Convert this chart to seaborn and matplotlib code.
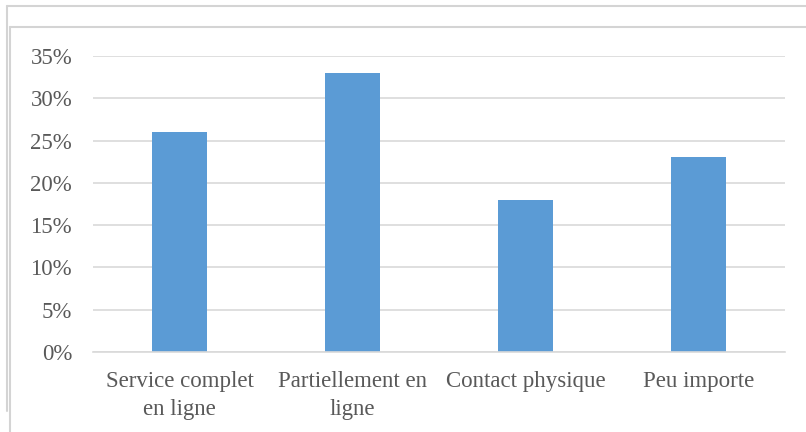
import matplotlib
matplotlib.use("Agg")
import matplotlib.pyplot as plt
from matplotlib.lines import Line2D
import seaborn as sns
import pandas as pd

categories = ["Service complet\nen ligne", "Partiellement en\nligne", "Contact physique", "Peu importe"]
shares = [0.26, 0.33, 0.18, 0.23]
yticks = [0, 0.05, 0.10, 0.15, 0.20, 0.25, 0.30, 0.35]
ytick_labels = ["0%", "5%", "10%", "15%", "20%", "25%", "30%", "35%"]

sns.set_theme(style="white")
plt.rcParams["font.family"] = ["Liberation Serif", "DejaVu Serif"]

W, H = 806, 432
fig = plt.figure(figsize=(W / 100, H / 100), dpi=100)
ax = fig.add_axes([93 / W, 1 - 352 / H, (785 - 93) / W, (352 - 56) / H])

df = pd.DataFrame({"cat": categories, "share": shares})
sns.barplot(data=df, x="cat", y="share", color="#5B9BD5", width=0.32,
            saturation=1, ax=ax, edgecolor="none")

ax.set_ylim(0, 0.35)
ax.set_xlim(-0.5, 3.5)
ax.set_yticks(yticks)
ax.set_yticklabels(ytick_labels)
ax.yaxis.grid(True, color="#d9d9d9", linewidth=1.2)
ax.set_axisbelow(True)
ax.set_xlabel("")
ax.set_ylabel("")
for s in ["top", "right", "left"]:
    ax.spines[s].set_visible(False)
ax.spines["bottom"].set_color("#d9d9d9")
ax.spines["bottom"].set_linewidth(1.2)
ax.tick_params(axis="y", length=0, pad=15, labelsize=16.5, labelcolor="#595959")
ax.tick_params(axis="x", length=0, pad=14, labelsize=16.5, labelcolor="#595959")
for lab in ax.get_xticklabels():
    lab.set_linespacing(1.38)

# page frame lines around the chart
def hline(y, x0, x1):
    fig.add_artist(Line2D([x0 / W, x1 / W], [1 - y / H, 1 - y / H],
                          color="#d4d4d4", linewidth=1.5, transform=fig.transFigure))

def vline(x, y0, y1):
    fig.add_artist(Line2D([x / W, x / W], [1 - y0 / H, 1 - y1 / H],
                          color="#d4d4d4", linewidth=1.5, transform=fig.transFigure))

hline(5.5, 6.5, W)
vline(7, 5.5, 411)
hline(27, 9.5, W)
vline(10, 27, H)

fig.savefig("out.png", dpi=100)
